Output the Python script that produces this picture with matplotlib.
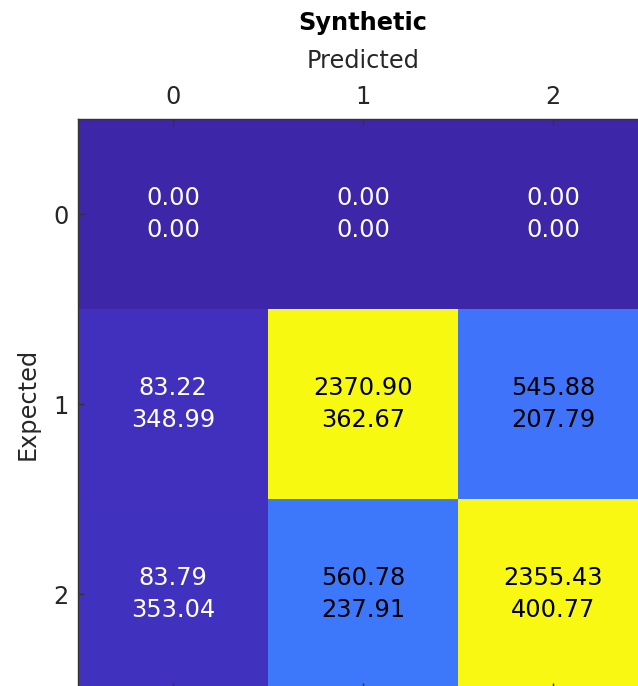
import numpy as np
import matplotlib
matplotlib.use("Agg")
import matplotlib.pyplot as plt
from matplotlib.colors import LinearSegmentedColormap

# Data
classes = ["0", "1", "2"]
mean_vals = np.array([
    [0.00, 0.00, 0.00],
    [83.22, 2370.90, 545.88],
    [83.79, 560.78, 2355.43],
])
std_vals = np.array([
    [0.00, 0.00, 0.00],
    [348.99, 362.67, 207.79],
    [353.04, 237.91, 400.77],
])
title = "Synthetic"
xlabel = "Predicted"
ylabel = "Expected"

# Parula-like colormap
parula_pts = [
    (0.000, (0.2422, 0.1504, 0.6603)),
    (0.100, (0.2803, 0.2782, 0.9221)),
    (0.230, (0.2470, 0.4600, 0.9850)),
    (0.375, (0.0800, 0.6600, 0.8700)),
    (0.500, (0.1986, 0.7214, 0.6310)),
    (0.625, (0.4921, 0.7567, 0.4010)),
    (0.750, (0.8005, 0.7476, 0.2536)),
    (0.875, (0.9944, 0.7611, 0.2185)),
    (1.000, (0.9730, 0.9800, 0.0700)),
]
cmap = LinearSegmentedColormap.from_list("parula", parula_pts)

DPI = 100
fig = plt.figure(figsize=(638 / DPI, 686 / DPI), dpi=DPI)
W, H = 638, 686
left, top, size = 78, 119, 570
ax = fig.add_axes([left / W, (H - top - size) / H, size / W, size / H])

vmax = mean_vals.max()
ax.imshow(mean_vals, cmap=cmap, vmin=0, vmax=vmax, interpolation="nearest", aspect="auto")

fs = 17.3
for i in range(mean_vals.shape[0]):
    for j in range(mean_vals.shape[1]):
        v = mean_vals[i, j]
        col = "black" if v / vmax > 0.15 else "white"
        ax.text(j, i, f"{v:.2f}\n{std_vals[i, j]:.2f}", ha="center", va="center",
                color=col, fontsize=fs, linespacing=1.38)

ax.set_xticks(range(len(classes)))
ax.set_yticks(range(len(classes)))
ax.set_xticklabels(classes)
ax.set_yticklabels(classes)
ax.tick_params(axis="both", which="both", direction="in", length=4.5, width=1,
               color="#333333", labelsize=fs, labelcolor="#262626",
               top=True, bottom=True, left=True, right=True,
               labeltop=True, labelbottom=False, pad=7)
ax.xaxis.set_label_position("top")
ax.set_xlabel(xlabel, fontsize=fs, color="#262626", labelpad=12.8)
ax.set_ylabel(ylabel, fontsize=fs, color="#262626", labelpad=9.5)
ax.set_title(title, fontsize=fs, fontweight="bold", pad=13)
for s in ax.spines.values():
    s.set_color("#333333")
    s.set_linewidth(1.0)

fig.savefig("out.png", dpi=DPI)
